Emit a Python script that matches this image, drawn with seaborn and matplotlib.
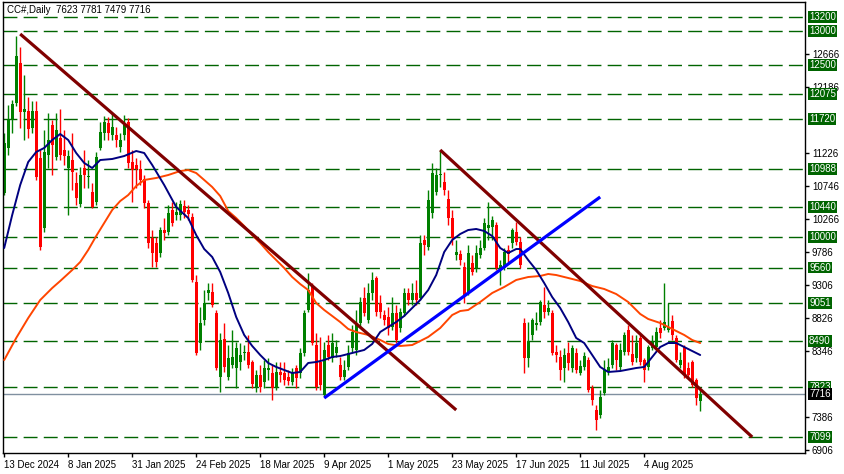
import numpy as np
import pandas as pd
import matplotlib
matplotlib.use("Agg")
import matplotlib.pyplot as plt
import seaborn as sns

# --- daily OHLC bars (bar 0 = 13 Dec 2024) ---
opens = [
    10640, 11300, 11720, 11950, 12530, 11820, 11835, 11585, 11835, 11150,
    10135, 11195, 11630, 11165, 11440, 11270, 11005, 11120, 10790, 10485,
    11005, 10875, 10655, 10510, 11295, 11515, 11660, 11485, 11485, 11310,
    11485, 11675, 11095, 11050, 10990, 10845, 10495, 9990, 9915, 9770,
    10105, 10075, 10395, 10325, 10325, 10455, 10395, 10295, 9350, 8465,
    8795, 9190, 9205, 8900, 7970, 8520, 7970, 8145, 8100, 8185,
    8320, 8335, 8185, 7825, 8000, 7895, 8070, 8025, 7825, 8040,
    8025, 7970, 7895, 8100, 8025, 8320, 8945, 9275, 8435, 8185,
    7710, 8435, 8245, 8320, 8145, 7970, 8115, 8390, 8360, 8755,
    9115, 8795, 9190, 9410, 9045, 8870, 8840, 8695, 8900, 8680,
    8900, 9190, 9090, 9190, 9115, 9960, 9860, 10350, 10655, 10905,
    10800, 10555, 10280, 9740, 9755, 9565, 9205, 9625, 9555, 9740,
    9845, 10135, 10150, 10180, 9555, 9555, 9815, 9915, 10075, 9930,
    8755, 8245, 8580, 8725, 8770, 9015, 8915, 8900, 8335, 8260,
    8100, 8320, 8100, 8320, 8025, 8115, 8215, 7810, 7490, 7415,
    7735, 8040, 8145, 8435, 8115, 8335, 8650, 8305, 8245, 8535,
    8215, 8115, 8390, 8405, 8680, 8680, 8650, 8785, 8535, 8145,
    8405, 8100, 8185, 7925, 7623,
]
highs = [
    11515, 11920, 11995, 12925, 12765, 12355, 12040, 11980, 11980, 11270,
    11560, 11805, 11705, 11805, 11865, 11560, 11270, 11515, 10950, 11020,
    11270, 11120, 10790, 11240, 11675, 11760, 11745, 11805, 11600, 11515,
    11775, 11730, 11270, 11150, 11120, 10905, 10540, 10105, 10005, 10150,
    10280, 10470, 10510, 10510, 10540, 10540, 10470, 10350, 9450, 8985,
    9235, 9335, 9335, 8945, 8610, 8755, 8435, 8650, 8480, 8465,
    8435, 8580, 8215, 8070, 8145, 8215, 8245, 8145, 8185, 8185,
    8185, 8070, 8100, 8145, 8390, 8945, 9480, 9335, 8610, 8550,
    8480, 8580, 8610, 8505, 8260, 8215, 8435, 8725, 8945, 9130,
    9275, 9335, 9495, 9435, 9160, 8945, 8985, 9130, 9015, 8970,
    9260, 9260, 9335, 9380, 10030, 10030, 10685, 11080, 11005, 11270,
    10950, 10685, 10395, 9960, 9815, 9640, 9885, 9740, 9885, 9960,
    10280, 10510, 10310, 10220, 9670, 9845, 9885, 10135, 10220, 10005,
    8825, 8770, 8825, 8915, 9090, 9275, 9090, 8945, 8435, 8360,
    8390, 8480, 8435, 8390, 8215, 8335, 8260, 7855, 7560, 7780,
    8215, 8245, 8505, 8465, 8465, 8625, 8725, 8580, 8580, 8580,
    8245, 8435, 8580, 8695, 8795, 9335, 9045, 8870, 8580, 8335,
    8435, 8185, 8215, 7955, 7781,
]
lows = [
    10610, 11195, 11515, 11905, 11585, 11415, 11440, 11515, 10830, 9815,
    10075, 11005, 10905, 11120, 11120, 11050, 10325, 10685, 10470, 10440,
    10715, 10715, 10420, 10470, 11270, 11415, 11415, 11415, 11310, 11240,
    11415, 11005, 10510, 10715, 10760, 10425, 9845, 9565, 9565, 9715,
    9960, 10030, 10165, 10250, 10250, 10280, 10250, 9350, 8290, 8360,
    8725, 9090, 8985, 8070, 7750, 8040, 7925, 8100, 7810, 8070,
    8215, 8100, 7810, 7750, 7750, 7810, 7925, 7635, 7780, 7895,
    7855, 7855, 7855, 7810, 7955, 8275, 8915, 8435, 7780, 7780,
    7680, 8215, 8185, 8260, 7925, 7925, 8070, 8335, 8290, 8695,
    8855, 8755, 9090, 8855, 8825, 8725, 8580, 8650, 8465, 8625,
    8855, 9015, 9015, 9015, 9090, 9740, 9815, 10280, 10615, 10730,
    10615, 10180, 9885, 9670, 9595, 9045, 9160, 9450, 9495, 9700,
    9815, 9960, 9960, 9525, 9305, 9525, 9640, 9845, 9885, 9555,
    8025, 8115, 8505, 8650, 8725, 8825, 8870, 8290, 8185, 7925,
    7895, 8070, 8040, 8025, 8000, 8070, 7750, 7560, 7200, 7375,
    7710, 8000, 8100, 8070, 8070, 8290, 8290, 8145, 8185, 8145,
    7895, 8070, 8360, 8360, 8535, 8650, 8625, 8505, 8185, 8100,
    7955, 7955, 7825, 7560, 7479,
]
closes = [
    11370, 11705, 11935, 12635, 11820, 11865, 11570, 11835, 10875, 9860,
    11240, 11415, 11340, 11560, 11195, 11180, 11180, 10950, 10570, 10905,
    10905, 10890, 10440, 11165, 11530, 11675, 11515, 11600, 11415, 11415,
    11630, 11080, 10975, 10990, 10830, 10495, 9915, 9770, 9640, 10105,
    10060, 10350, 10205, 10365, 10485, 10365, 10340, 9380, 8320, 8755,
    9045, 9235, 9015, 8100, 8505, 8115, 8245, 8260, 8390, 8290,
    8335, 8145, 7870, 8000, 7825, 8100, 8100, 7810, 8040, 8000,
    7925, 7910, 8025, 7955, 8320, 8900, 9235, 8465, 7825, 7855,
    8360, 8260, 8465, 8405, 7970, 8070, 8320, 8625, 8755, 9060,
    8900, 9190, 9380, 8915, 8915, 8795, 8680, 8900, 8505, 8915,
    9190, 9090, 9190, 9090, 9915, 9885, 10540, 10935, 10905, 10920,
    10685, 10280, 9990, 9785, 9670, 9160, 9770, 9495, 9770, 9845,
    10205, 10180, 10250, 9555, 9595, 9785, 9755, 10105, 9930, 9595,
    8245, 8480, 8795, 8755, 9060, 8915, 8970, 8320, 8290, 8070,
    8290, 8175, 8390, 8070, 8130, 8275, 7780, 7635, 7345, 7680,
    8070, 8115, 8465, 8215, 8360, 8580, 8335, 8185, 8465, 8185,
    8070, 8405, 8480, 8625, 8610, 8770, 8695, 8580, 8215, 8215,
    8000, 8000, 7855, 7665, 7716,
]

# moving averages, read at selected bars
fast_ma_bars = [0, 2, 4, 6, 8, 10, 12, 14, 16, 18, 20, 22, 24, 27, 30, 33, 35, 37, 40, 43,
                46, 48, 50, 52, 54, 56, 58, 60, 62, 64, 66, 68, 70, 72, 74, 76, 78, 80, 82, 84,
                87, 90, 92, 94, 96, 98, 100, 102, 104, 106, 108, 110, 112, 114, 116, 118, 120,
                122, 124, 126, 128, 129, 131, 133, 135, 137, 139, 141, 143, 145, 147, 149, 151,
                154, 158, 160, 162, 164, 166, 168, 170, 172, 174]
fast_ma_vals = [9844, 10323, 10759, 11093, 11239, 11297, 11413, 11500, 11413, 11224, 11079,
                11006, 11122, 11137, 11180, 11253, 11224, 11050, 10759, 10439, 10279, 10032,
                9829, 9713, 9495, 9190, 8841, 8580, 8420, 8289, 8173, 8115, 8071, 8027, 8042,
                8173, 8187, 8216, 8260, 8274, 8318, 8362, 8449, 8623, 8696, 8768, 8856, 8972,
                9088, 9233, 9451, 9785, 9960, 10047, 10105, 10120, 10091, 10018, 9844, 9771,
                9829, 9829, 9669, 9524, 9335, 9131, 8972, 8768, 8536, 8463, 8289, 8115, 8042,
                8056, 8100, 8115, 8260, 8405, 8463, 8463, 8405, 8347, 8289]

slow_ma_bars = [0, 3, 6, 9, 12, 14, 17, 19, 21, 23, 25, 27, 29, 31, 33, 35, 38, 41, 44, 46,
                48, 50, 52, 54, 56, 58, 60, 62, 64, 66, 68, 70, 72, 74, 76, 78, 80, 82, 84, 86,
                88, 91, 94, 96, 99, 102, 104, 106, 109, 112, 114, 116, 119, 122, 125, 128, 131,
                134, 136, 138, 141, 144, 147, 150, 153, 156, 159, 161, 164, 167, 170, 172, 174]
slow_ma_vals = [8216, 8536, 8826, 9088, 9262, 9364, 9524, 9640, 9815, 10018, 10207, 10396,
                10526, 10613, 10744, 10832, 10861, 10904, 10962, 10977, 10933, 10832, 10730,
                10599, 10381, 10279, 10163, 10032, 9916, 9785, 9669, 9553, 9422, 9320, 9233,
                9044, 8943, 8856, 8768, 8667, 8623, 8580, 8507, 8449, 8420, 8434, 8492, 8551,
                8681, 8870, 8928, 8943, 9059, 9190, 9277, 9379, 9422, 9437, 9466, 9451, 9408,
                9364, 9291, 9248, 9175, 9059, 8885, 8812, 8754, 8667, 8580, 8507, 8463]

# trend lines: (bar, price) start and end
down_trend_1 = [(4, 12953), (113, 7490)]
down_trend_2 = [(109, 11268), (187, 7097)]
up_trend = [(80, 7664), (149, 10585)]

levels = [13200, 13000, 12500, 12075, 11720, 10988, 10440, 10000, 9560, 9051, 8490, 7823, 7099]
# price scale ticks that are not covered by a level box
price_ticks = [6906, 7386, 8346, 8826, 9306, 9786, 10266, 10746, 11226, 12186, 12666]
last_price = 7716

date_ticks = [0, 16, 32, 48, 64, 80, 96, 112, 128, 144, 160]
date_labels = ["13 Dec 2024", "8 Jan 2025", "31 Jan 2025", "24 Feb 2025", "18 Mar 2025",
               "9 Apr 2025", "1 May 2025", "23 May 2025", "17 Jun 2025", "11 Jul 2025",
               "4 Aug 2025"]

title = "CC#,Daily  7623 7781 7479 7716"

sns.set_theme(style="white")
plt.rcParams["font.family"] = ["Liberation Sans", "DejaVu Sans"]
plt.rcParams["axes.edgecolor"] = "black"
plt.rcParams["axes.linewidth"] = 1.0

fig = plt.figure(figsize=(8.45, 4.74), dpi=100)
ax = fig.add_axes([3 / 845, 21 / 474, 802 / 845, 451 / 474])
ax.set_facecolor("white")

df = pd.DataFrame({"open": opens, "high": highs, "low": lows, "close": closes})
df["bar"] = np.arange(len(df))
up = df["close"] >= df["open"]
colors = np.where(up, "#008000", "#ff0000")

# horizontal levels
for lvl in levels:
    ax.axhline(lvl, color="#006400", linewidth=1.0, dashes=(10, 4.5), zorder=1)
ax.axhline(last_price, color="#8090a0", linewidth=1.0, zorder=1)

# candles
ax.vlines(df["bar"], df["low"], df["high"], colors=colors, linewidth=1.0, zorder=2)
body = (df["close"] - df["open"]).abs().clip(lower=12)
ax.bar(df["bar"], body, bottom=df[["open", "close"]].min(axis=1), width=0.72,
       color=colors, linewidth=0, zorder=2)

# moving averages
sns.lineplot(x=slow_ma_bars, y=slow_ma_vals, color="#ff4500", linewidth=1.4, ax=ax,
             estimator=None, sort=False, zorder=3)
sns.lineplot(x=fast_ma_bars, y=fast_ma_vals, color="#000080", linewidth=1.4, ax=ax,
             estimator=None, sort=False, zorder=3)

# trend lines
for line, col in [(down_trend_1, "#800000"), (down_trend_2, "#800000"), (up_trend, "#0000ff")]:
    xs, ys = zip(*line)
    ax.plot(xs, ys, color=col, linewidth=2.3, solid_capstyle="butt", zorder=4)

ax.set_xlim(-0.3, 200.2)
ax.set_ylim(6865, 13418)

ax.set_xticks(date_ticks)
ax.set_xticklabels(date_labels, ha="left", fontsize=7, color="black")
ax.tick_params(axis="x", direction="out", length=3, width=1, pad=2, colors="black",
               bottom=True)

ax.yaxis.tick_right()
ax.set_yticks(price_ticks)
ax.set_yticklabels([str(t) for t in price_ticks], fontsize=7, color="black")
ax.tick_params(axis="y", direction="out", length=3, width=1, pad=2, colors="black",
               right=True)

ytr = ax.get_yaxis_transform()
box_style = "square,pad=0.1"
for lvl in levels:
    ax.text(1.005, lvl, str(lvl), transform=ytr, ha="left", va="center", fontsize=7,
            color="white", clip_on=False, zorder=6,
            bbox=dict(boxstyle=box_style, facecolor="#006400", edgecolor="none"))
ax.text(1.005, last_price, str(last_price), transform=ytr, ha="left", va="center",
        fontsize=7, color="white", clip_on=False, zorder=6,
        bbox=dict(boxstyle=box_style, facecolor="black", edgecolor="none"))

for sp in ax.spines.values():
    sp.set_color("black")
    sp.set_linewidth(1.0)

fig.text(7 / 845, 1 - 10 / 474, title, fontsize=7, color="black", ha="left", va="center")

fig.savefig("out.png", dpi=100)
